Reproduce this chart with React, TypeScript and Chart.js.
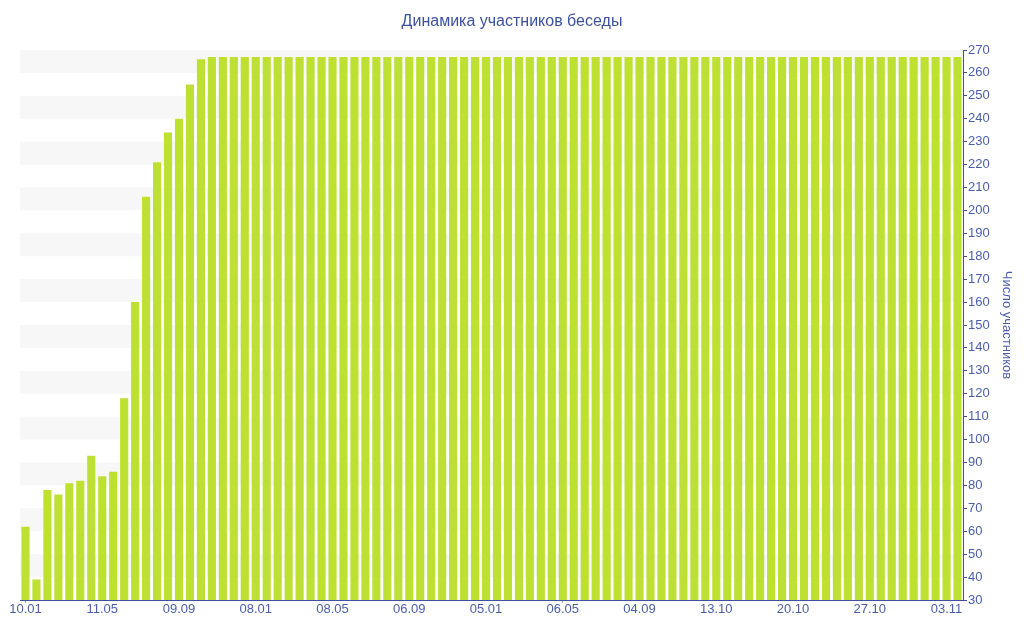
import React, { useEffect, useRef } from "react";
import { Chart, registerables } from "chart.js";

Chart.register(...registerables);

const chartTitle = "Динамика участников беседы";
const yAxisTitle = "Число участников";

// Labels shown under every 7th bar
const tickLabels = [
  "10.01", "11.05", "09.09", "08.01", "08.05", "06.09", "05.01",
  "06.05", "04.09", "13.10", "20.10", "27.10", "03.11",
];
const tickEvery = 7;

// Participants per period (86 bars)
const participants = [
  62, 39, 78, 76, 81, 82, 93, 84, 86, 118,
  160, 206, 221, 234, 240, 255, 266, 267, 267, 267,
  267, 267, 267, 267, 267, 267, 267, 267, 267, 267,
  267, 267, 267, 267, 267, 267, 267, 267, 267, 267,
  267, 267, 267, 267, 267, 267, 267, 267, 267, 267,
  267, 267, 267, 267, 267, 267, 267, 267, 267, 267,
  267, 267, 267, 267, 267, 267, 267, 267, 267, 267,
  267, 267, 267, 267, 267, 267, 267, 267, 267, 267,
  267, 267, 267, 267, 267, 267,
];

const yMin = 30;
const yMax = 270;

const BLUE = "#3c52a0";
const LABEL = "#4a5ea8";
const BAR = "#bde032";
const BAND = "#f7f7f7";
const FONT = "'Liberation Sans', Arial, sans-serif";

const categories = participants.map((_, i) =>
  i % tickEvery === 0 && tickLabels[i / tickEvery] ? tickLabels[i / tickEvery] : ""
);

const bandsPlugin = {
  id: "bands",
  beforeDatasetsDraw(chart: any) {
    const { ctx, chartArea, scales } = chart;
    const y = scales.y;
    ctx.save();
    ctx.fillStyle = BAND;
    for (let v = yMin + 10; v < yMax; v += 20) {
      const top = y.getPixelForValue(v + 10);
      const bottom = y.getPixelForValue(v);
      ctx.fillRect(chartArea.left, top, chartArea.right - chartArea.left, bottom - top);
    }
    ctx.restore();
  },
};

const titlePlugin = {
  id: "centerTitle",
  afterDraw(chart: any) {
    const { ctx, width } = chart;
    ctx.save();
    ctx.fillStyle = BLUE;
    ctx.font = `16px ${FONT}`;
    ctx.textAlign = "center";
    ctx.textBaseline = "middle";
    ctx.fillText(chartTitle, width / 2, 22);
    ctx.restore();
  },
};

export default function App() {
  const ref = useRef<HTMLCanvasElement | null>(null);

  useEffect(() => {
    if (!ref.current) return;
    const chart = new Chart(ref.current, {
      type: "bar",
      data: {
        labels: categories,
        datasets: [
          {
            data: participants,
            backgroundColor: BAR,
            borderWidth: 0,
            barPercentage: 0.74,
            categoryPercentage: 1,
          },
        ],
      },
      plugins: [bandsPlugin, titlePlugin],
      options: {
        animation: false,
        responsive: true,
        maintainAspectRatio: false,
        layout: { padding: { left: 20, right: 0, top: 50, bottom: 0 } },
        plugins: {
          legend: { display: false },
          tooltip: { enabled: false },
          title: { display: false },
        },
        scales: {
          x: {
            offset: true,
            afterFit: (s: any) => {
              s.height = 40;
            },
            border: { display: true, color: BLUE, width: 1 },
            grid: {
              offset: false,
              drawOnChartArea: false,
              drawTicks: true,
              tickLength: 3,
              color: (c: any) => (c.index % tickEvery === 0 ? "#a0a0a0" : "rgba(0,0,0,0)"),
            },
            ticks: {
              autoSkip: false,
              maxRotation: 0,
              minRotation: 0,
              padding: -1,
              color: LABEL,
              font: { family: FONT, size: 13 },
              callback: (_v: any, i: number) => (categories[i] ? categories[i] : null),
            },
          },
          y: {
            position: "right",
            min: yMin,
            max: yMax,
            afterFit: (s: any) => {
              s.width = 61;
            },
            border: { display: true, color: BLUE, width: 1 },
            grid: {
              drawOnChartArea: false,
              drawTicks: true,
              tickLength: 4,
              color: (c: any) =>
                c.tick && c.tick.value % 10 === 0 ? BLUE : "#b8bdd0",
            },
            ticks: {
              stepSize: 5,
              padding: 1,
              color: LABEL,
              font: { family: FONT, size: 13 },
              callback: (v: any) => (Number(v) % 10 === 0 ? String(v) : ""),
            },
            title: {
              display: true,
              text: yAxisTitle,
              color: LABEL,
              font: { family: FONT, size: 13 },
              padding: { top: 10, bottom: 0 },
            },
          },
        },
      },
    });
    return () => chart.destroy();
  }, []);

  return (
    <div style={{ position: "fixed", left: 0, top: 0, width: 1024, height: 640, background: "#fff" }}>
      <canvas ref={ref} />
    </div>
  );
}
